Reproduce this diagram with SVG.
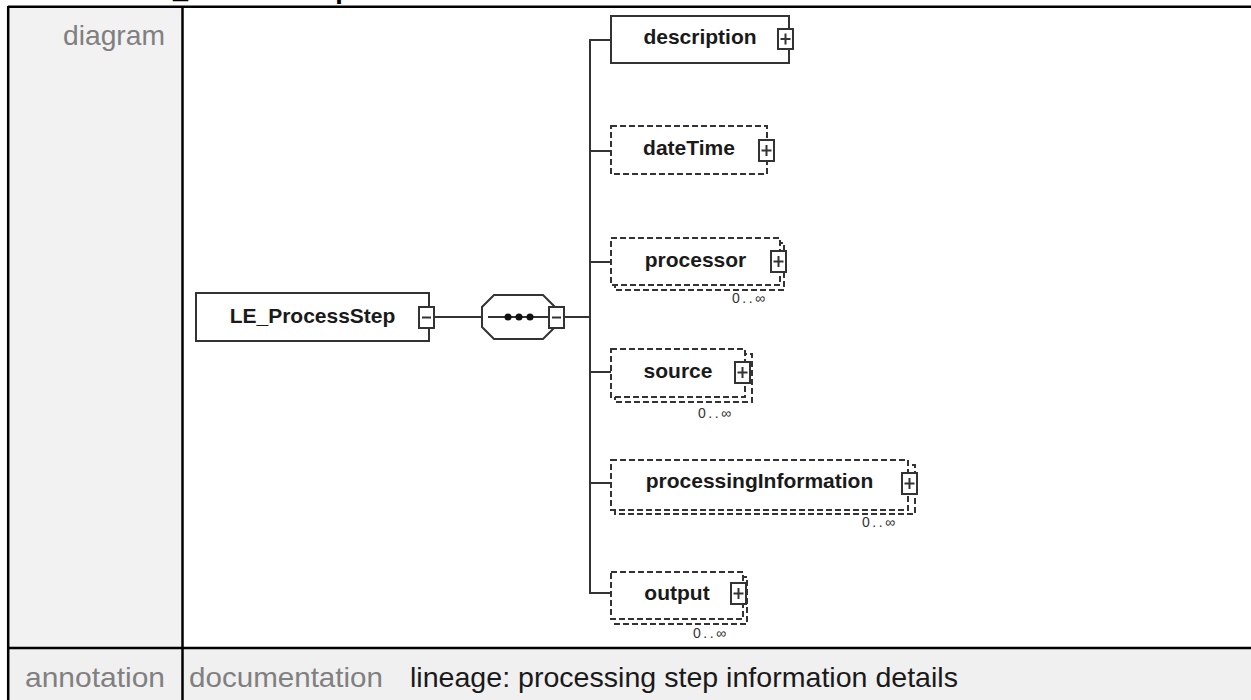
<svg xmlns="http://www.w3.org/2000/svg" width="1251" height="700" viewBox="0 0 1251 700">
<style>
.hdr{font-family:"Liberation Sans",Arial,sans-serif;font-size:28px;fill:#808080}
.val{font-family:"Liberation Sans",Arial,sans-serif;font-size:28px;fill:#1a1a1a}
.title{font-family:"Liberation Sans",Arial,sans-serif;font-size:27px;font-weight:bold;fill:#000}
.box{fill:#fff;stroke:#333;stroke-width:2}
.dbox{fill:#fff;stroke:#333;stroke-width:2;stroke-dasharray:6,3}
.lbl{font-family:"Liberation Sans",Arial,sans-serif;font-size:21px;font-weight:bold;fill:#1a1a1a;text-anchor:middle}
.occ{font-family:"Liberation Sans",Arial,sans-serif;font-size:14px;fill:#333}
.sq{fill:#fff;stroke:#333;stroke-width:2}
.sym{stroke:#333;stroke-width:2;fill:none}
.conn{stroke:#333;stroke-width:2;fill:none}
.grid{stroke:#000;stroke-width:2.5;fill:none}
</style>
<rect x="0" y="0" width="1251" height="700" fill="#fff"/>
<text class="title" x="29" y="-2.5">element LE_ProcessStep</text>
<g id="table">
<rect x="8" y="7" width="174" height="641" fill="#f2f2f2"/>
<rect x="8" y="648" width="1243" height="52" fill="#f0f0f0"/>
<line class="grid" x1="8" y1="6.7" x2="1251" y2="6.7"/>
<line class="grid" x1="8" y1="648" x2="1251" y2="648"/>
<line class="grid" x1="8.2" y1="6" x2="8.2" y2="700"/>
<line class="grid" x1="182.5" y1="6" x2="182.5" y2="700"/>
<text class="hdr" x="165" y="45" text-anchor="end" textLength="102" lengthAdjust="spacingAndGlyphs">diagram</text>
<text class="hdr" x="25" y="687" textLength="140" lengthAdjust="spacingAndGlyphs">annotation</text>
<text class="hdr" x="189" y="687" textLength="194" lengthAdjust="spacingAndGlyphs">documentation</text>
<text class="val" x="410" y="687" textLength="548" lengthAdjust="spacingAndGlyphs">lineage: processing step information details</text>
</g>
<g id="connectors">
<line class="conn" x1="434" y1="317" x2="482" y2="317"/>
<line class="conn" x1="564" y1="317" x2="590" y2="317"/>
<polyline class="conn" points="611,40 590,40 590,593 611,593"/>
<line class="conn" x1="590" y1="151" x2="611" y2="151"/>
<line class="conn" x1="590" y1="262" x2="611" y2="262"/>
<line class="conn" x1="590" y1="372" x2="611" y2="372"/>
<line class="conn" x1="590" y1="483" x2="611" y2="483"/>
</g>
<g id="LE_ProcessStep">
<rect class="box" x="196" y="293" width="233" height="48"/>
<text class="lbl" x="312.5" y="322.5">LE_ProcessStep</text>
<rect class="sq" x="419" y="307" width="15" height="21"/>
<line class="sym" x1="422" y1="317.5" x2="431" y2="317.5"/>
</g>
<g id="sequence">
<polygon class="box" points="494,295 543,295 555,307 555,327 543,339 494,339 482,327 482,307"/>
<line class="conn" x1="488" y1="317" x2="549" y2="317"/>
<circle cx="508" cy="317" r="3.5" fill="#111"/>
<circle cx="519" cy="317" r="3.5" fill="#111"/>
<circle cx="530" cy="317" r="3.5" fill="#111"/>
<rect class="sq" x="549" y="307" width="15" height="21"/>
<line class="sym" x1="552" y1="317.5" x2="561" y2="317.5"/>
</g>
<g id="description">
<rect class="box" x="611" y="16" width="178" height="47"/>
<text class="lbl" x="700" y="44">description</text>
<rect class="sq" x="778" y="29" width="15" height="20"/>
<path class="sym" d="M780.5,39 h10 M785.5,33.5 v11"/>
</g>
<g id="dateTime">
<rect class="dbox" x="611" y="126" width="156" height="48"/>
<text class="lbl" x="689" y="155">dateTime</text>
<rect class="sq" x="759" y="140" width="15" height="21"/>
<path class="sym" d="M761.5,150.5 h10 M766.5,145 v11"/>
</g>
<g id="processor">
<rect class="dbox" x="615" y="243" width="169" height="47"/>
<rect class="dbox" x="611" y="238" width="169" height="47"/>
<text class="lbl" x="695.5" y="266.5">processor</text>
<rect class="sq" x="771" y="251" width="15" height="21"/>
<path class="sym" d="M773.5,261.5 h10 M778.5,256 v11"/>
<text class="occ" x="732" y="303" textLength="33" lengthAdjust="spacing">0..∞</text>
</g>
<g id="source">
<rect class="dbox" x="615" y="354" width="137" height="48"/>
<rect class="dbox" x="611" y="349" width="134" height="48"/>
<text class="lbl" x="678" y="378">source</text>
<rect class="sq" x="735" y="362" width="15" height="21"/>
<path class="sym" d="M737.5,372.5 h10 M742.5,367 v11"/>
<text class="occ" x="698" y="418" textLength="33" lengthAdjust="spacing">0..∞</text>
</g>
<g id="processingInformation">
<rect class="dbox" x="615" y="465" width="300" height="49"/>
<rect class="dbox" x="611" y="460" width="297" height="50"/>
<text class="lbl" x="759.5" y="488">processingInformation</text>
<rect class="sq" x="902" y="473" width="15" height="21"/>
<path class="sym" d="M904.5,483.5 h10 M909.5,478 v11"/>
<text class="occ" x="862" y="527" textLength="33" lengthAdjust="spacing">0..∞</text>
</g>
<g id="output">
<rect class="dbox" x="615" y="577" width="132" height="47"/>
<rect class="dbox" x="611" y="572" width="132" height="47"/>
<text class="lbl" x="677" y="600">output</text>
<rect class="sq" x="731" y="583" width="15" height="21"/>
<path class="sym" d="M733.5,593.5 h10 M738.5,588 v11"/>
<text class="occ" x="693" y="638" textLength="33" lengthAdjust="spacing">0..∞</text>
</g>
</svg>
